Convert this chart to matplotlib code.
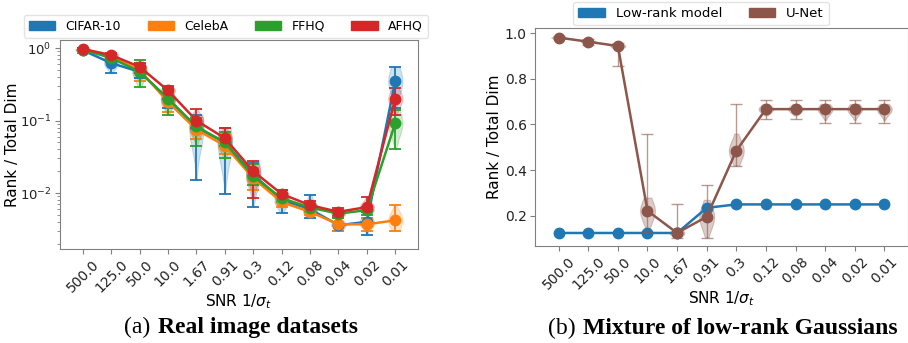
import numpy as np
import matplotlib
matplotlib.use('Agg')
import matplotlib.pyplot as plt
from matplotlib.offsetbox import TextArea, HPacker, AnchoredOffsetbox
from matplotlib.patches import Patch

snr_labels = ['500.0', '125.0', '50.0', '10.0', '1.67', '0.91', '0.3',
              '0.12', '0.08', '0.04', '0.02', '0.01']

# ---- (a) real image datasets: mean, lower, upper ----
cifar_mean = [0.93, 0.62, 0.47, 0.20, 0.080, 0.050, 0.018, 0.0080, 0.0060, 0.0036, 0.0040, 0.35]
cifar_lo = [0.85, 0.45, 0.38, 0.15, 0.015, 0.0097, 0.0064, 0.0053, 0.0045, 0.0030, 0.0026, 0.15]
cifar_hi = [0.97, 0.75, 0.60, 0.28, 0.120, 0.080, 0.026, 0.0110, 0.0094, 0.0045, 0.0045, 0.55]

celeba_mean = [0.95, 0.75, 0.50, 0.18, 0.075, 0.045, 0.016, 0.0075, 0.0055, 0.0037, 0.0037, 0.0042]
celeba_lo = [0.88, 0.68, 0.35, 0.13, 0.055, 0.035, 0.011, 0.0065, 0.0050, 0.0030, 0.0030, 0.0030]
celeba_hi = [0.98, 0.82, 0.60, 0.24, 0.100, 0.065, 0.022, 0.0090, 0.0065, 0.0045, 0.0045, 0.0068]

ffhq_mean = [0.95, 0.73, 0.47, 0.20, 0.083, 0.050, 0.017, 0.0085, 0.0063, 0.0052, 0.0058, 0.092]
ffhq_lo = [0.90, 0.65, 0.29, 0.12, 0.045, 0.030, 0.013, 0.0075, 0.0055, 0.0045, 0.0050, 0.040]
ffhq_hi = [0.99, 0.80, 0.68, 0.27, 0.110, 0.070, 0.025, 0.0095, 0.0070, 0.0058, 0.0065, 0.140]

afhq_mean = [0.97, 0.80, 0.55, 0.26, 0.100, 0.057, 0.020, 0.0097, 0.0068, 0.0055, 0.0064, 0.20]
afhq_lo = [0.93, 0.72, 0.45, 0.20, 0.080, 0.045, 0.0085, 0.0085, 0.0060, 0.0048, 0.0055, 0.12]
afhq_hi = [1.00, 0.86, 0.62, 0.30, 0.145, 0.080, 0.028, 0.0110, 0.0078, 0.0063, 0.0088, 0.28]

# ---- (b) mixture of low-rank Gaussians ----
lowrank_mean = [0.125, 0.125, 0.125, 0.125, 0.125, 0.235, 0.25, 0.25, 0.25, 0.25, 0.25, 0.25]
unet_mean = [0.98, 0.962, 0.943, 0.222, 0.125, 0.196, 0.485, 0.667, 0.667, 0.667, 0.667, 0.667]
unet_lo = [0.975, 0.948, 0.855, 0.13, 0.105, 0.105, 0.42, 0.625, 0.625, 0.605, 0.605, 0.605]
unet_hi = [0.985, 0.975, 0.955, 0.56, 0.25, 0.335, 0.69, 0.705, 0.705, 0.705, 0.705, 0.705]
unet_vlo = [0.975, 0.95, 0.925, 0.13, 0.105, 0.105, 0.42, 0.64, 0.64, 0.62, 0.62, 0.62]
unet_vhi = [0.985, 0.97, 0.955, 0.28, 0.15, 0.27, 0.56, 0.69, 0.69, 0.69, 0.69, 0.69]

C_BLUE, C_ORANGE, C_GREEN, C_RED, C_BROWN = '#1f77b4', '#ff7f0e', '#2ca02c', '#d62728', '#8c564b'
SPINE = '#808080'

plt.rcParams['font.family'] = ['DejaVu Sans']

fig = plt.figure(figsize=(9.08, 3.43), dpi=100)
axa = fig.add_axes([60/908, 1-249/343, 358/908, 209/343])
axb = fig.add_axes([535/908, 1-246/343, 373/908, 218/343])

x = np.arange(len(snr_labels))


def violin_stats(lo, mid, hi, log=False, n=40):
    stats = []
    for l, m, h in zip(lo, mid, hi):
        if log:
            l, m, h = np.log10(l), np.log10(m), np.log10(h)
        c = np.linspace(l, h, n)
        s = max(h - l, 1e-9) / 3.0
        v = np.exp(-0.5 * ((c - m) / s) ** 2)
        if log:
            c = 10 ** c
        stats.append(dict(coords=c, vals=v, mean=m, median=m, min=c[0], max=c[-1]))
    return stats


def draw_violins(ax, lo, mid, hi, color, log=False, alpha=0.22, width=0.5):
    parts = ax.violin(violin_stats(lo, mid, hi, log=log), positions=x, widths=width,
                      showmeans=False, showextrema=False, showmedians=False)
    for b in parts['bodies']:
        b.set_facecolor(color)
        b.set_edgecolor(color)
        b.set_alpha(alpha)
        b.set_linewidth(0.8)


series_a = [
    (cifar_mean, cifar_lo, cifar_hi, C_BLUE),
    (celeba_mean, celeba_lo, celeba_hi, C_ORANGE),
    (ffhq_mean, ffhq_lo, ffhq_hi, C_GREEN),
    (afhq_mean, afhq_lo, afhq_hi, C_RED),
]
axa.set_yscale('log')
for m, lo, hi, c in series_a:
    draw_violins(axa, lo, m, hi, c, log=True)
for m, lo, hi, c in series_a:
    m = np.array(m); lo = np.array(lo); hi = np.array(hi)
    axa.errorbar(x, m, yerr=[m - lo, hi - m], fmt='-o', color=c, ms=7.5, lw=1.8,
                 elinewidth=1.3, capsize=4, capthick=1.3)

axa.set_xlim(-0.8, 11.8)
axa.set_ylim(0.00169, 1.29)

# ---- (b) ----
draw_violins(axb, unet_vlo, unet_mean, unet_vhi, C_BROWN, alpha=0.3)
axb.plot(x, lowrank_mean, '-o', color=C_BLUE, ms=7.5, lw=1.8)
um = np.array(unet_mean)
axb.errorbar(x, um, yerr=[um - np.array(unet_lo), np.array(unet_hi) - um], fmt='none',
             ecolor=C_BROWN, elinewidth=1.0, capsize=4, capthick=1.0, alpha=0.6)
axb.plot(x, unet_mean, '-o', color=C_BROWN, ms=7.5, lw=1.8)
axb.set_xlim(-0.8, 11.8)
axb.set_ylim(0.068, 1.022)
axb.set_yticks([0.2, 0.4, 0.6, 0.8, 1.0])

for ax in (axa, axb):
    ax.set_xticks(x)
    ax.set_xticklabels(snr_labels, rotation=45, ha='center')
    ax.tick_params(labelsize=10, colors=SPINE, labelcolor='#222222', pad=2.5)
    ax.tick_params(which='minor', colors=SPINE)
    for s in ax.spines.values():
        s.set_color(SPINE)
    ax.set_xlabel(r'SNR $1/\sigma_t$', fontsize=11, labelpad=-2)
    ax.set_ylabel('Rank / Total Dim', fontsize=11)

axa.tick_params(axis='y', labelsize=9.5)
axa.yaxis.set_label_coords(-0.112, 0.5)
axb.yaxis.set_label_coords(-0.088, 0.5)

# legends
leg_a = [Patch(color=c, label=l) for c, l in
         zip([C_BLUE, C_ORANGE, C_GREEN, C_RED], ['CIFAR-10', 'CelebA', 'FFHQ', 'AFHQ'])]
fig.legend(handles=leg_a, loc='center', bbox_to_anchor=(226/908, 1-26/343), ncol=4,
           fontsize=9, handlelength=2.1, handletextpad=0.85, columnspacing=2.1,
           frameon=True, edgecolor='#dddddd', fancybox=True, borderpad=0.4)
leg_b = [Patch(color=C_BLUE, label='Low-rank model'), Patch(color=C_BROWN, label='U-Net')]
fig.legend(handles=leg_b, loc='center', bbox_to_anchor=(701/908, 1-13.5/343), ncol=2,
           fontsize=9.5, handlelength=2.0, handletextpad=0.85, columnspacing=2.0,
           frameon=True, edgecolor='#dddddd', fancybox=True, borderpad=0.4)


def caption(pre, bold, cx, cy):
    t1 = TextArea(pre, textprops=dict(family='Liberation Serif', size=17))
    t2 = TextArea(bold, textprops=dict(family='Liberation Serif', size=17, weight='bold'))
    box = HPacker(children=[t1, t2], align='baseline', pad=0, sep=5)
    ab = AnchoredOffsetbox(loc='center', child=box, bbox_to_anchor=(cx, cy),
                           bbox_transform=fig.transFigure, frameon=False, pad=0, borderpad=0)
    fig.add_artist(ab)


caption('(a)', 'Real image datasets', 241/908, 1-327/343)
caption('(b)', 'Mixture of low-rank Gaussians', 723/908, 1-328/343)

fig.savefig('out.png', dpi=100)
